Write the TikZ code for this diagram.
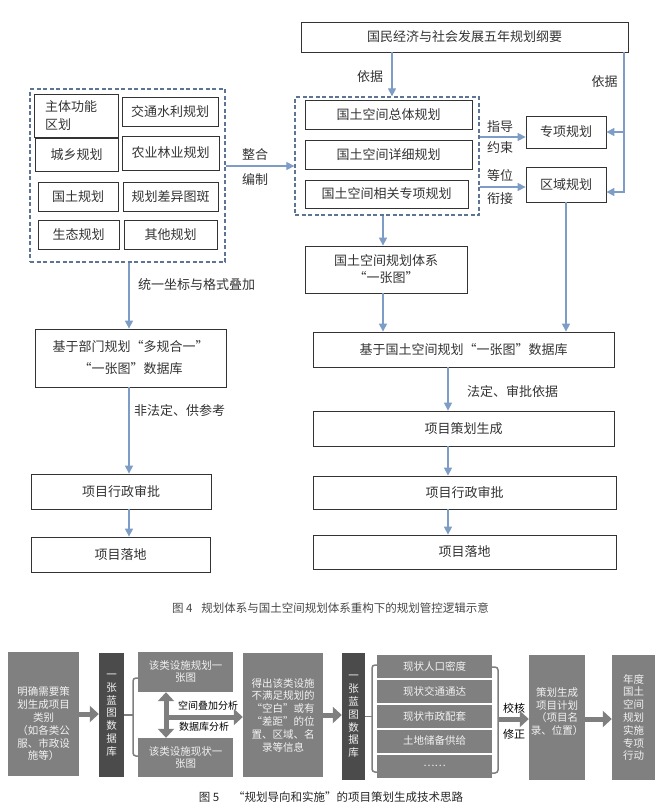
\documentclass[tikz,border=0pt]{standalone}
\usepackage{fontspec}
\setmainfont{Noto Sans CJK SC}
\usetikzlibrary{arrows.meta}
\definecolor{kuang}{HTML}{333333}
\definecolor{xu}{HTML}{5E7494}
\definecolor{jian}{HTML}{7D9CC6}
\definecolor{hui}{HTML}{808080}
\definecolor{shen}{HTML}{4B4B4B}
\definecolor{huijt}{HTML}{7F7F7F}
\definecolor{baise}{HTML}{F2F2F2}
\newcommand{\wz}{\fontsize{13}{15}\selectfont}
\newcommand{\xz}{\fontsize{10.5}{12.8}\selectfont}

\begin{document}
\begin{tikzpicture}[x=1pt,y=-1pt,
  wh/.style 2 args={minimum width=#1pt, minimum height=#2pt},
  kuang/.style={draw=kuang, line width=.8pt, inner sep=0pt, text=kuang, font=\wz, align=center},
  xukuang/.style={draw=xu, line width=1.3pt, dash pattern=on 4pt off 2.5pt, inner sep=0pt},
  jt/.style={draw=jian, line width=1.2pt, -{Triangle[length=8pt,width=8pt]}},
  wenzi/.style={text=kuang, font=\wz, inner sep=0pt},
  huikuang/.style={fill=hui, inner sep=0pt, text=baise, font=\xz, align=center},
  shenkuang/.style={fill=shen, inner sep=0pt, text=baise, font=\xz, align=center},
  cujt/.style={draw=huijt, line width=5pt, -{Triangle[length=9pt,width=16pt]}},
  kuohao/.style={draw=huijt, line width=1.5pt, rounded corners=3pt},
  ]
  \useasboundingbox (0,0) rectangle (663,811);

      % fig 4, top
      \node (gy) at (464.5,37) [kuang, wh={327}{30}] {国民经济与社会发展五年规划纲要};

      % bumen guihua
      \node (bmz) at (127.5,175.5) [xukuang, wh={195}{173}] {};
      \node (zt) at (76,115.5) [kuang, wh={84}{43}, text width=62pt, align=left, font=\fontsize{13}{18}\selectfont] {主体功能\\区划};
      \node (cx) at (76.5,154.5) [kuang, wh={83}{33}] {城乡规划};
      \node (jtsl) at (170,111.5) [kuang, wh={96}{29}] {交通水利规划};
      \node (nyly) at (170.5,153) [kuang, wh={97}{34}] {农业林业规划};
      \node (gtgh) at (78,196.5) [kuang, wh={80}{29}] {国土规划};
      \node (cytb) at (170.5,196.5) [kuang, wh={95}{29}] {规划差异图斑};
      \node (stgh) at (78.5,234.5) [kuang, wh={81}{29}] {生态规划};
      \node (qtgh) at (170.5,234.5) [kuang, wh={93}{29}] {其他规划};

      % guotu kongjian guihua
      \node (gkz) at (387,156) [xukuang, wh={184}{118}] {};
      \node (ztgh) at (388.5,114.5) [kuang, wh={167}{29}] {国土空间总体规划};
      \node (xxgh) at (388.5,154.5) [kuang, wh={167}{29}] {国土空间详细规划};
      \node (zxgh) at (386.5,194) [kuang, wh={163}{28}] {国土空间相关专项规划};
      \node (zx) at (566,132) [kuang, wh={80}{32}] {专项规划};
      \node (qy) at (566,184.5) [kuang, wh={80}{35}] {区域规划};
      \node (yzt) at (386,269.5) [kuang, wh={162}{47}, font=\fontsize{13}{17}\selectfont] {国土空间规划体系\\“一张图”};

      % fig 4, bottom
      \node (bmk) at (130.5,358) [kuang, wh={191}{58}, font=\fontsize{13}{22}\selectfont] {基于部门规划“多规合一”\\“一张图”数据库};
      \node (sp1) at (121,491.5) [kuang, wh={180}{35}] {项目行政审批};
      \node (ld1) at (120.5,554.5) [kuang, wh={179}{35}] {项目落地};
      \node (gtk) at (463.5,349.5) [kuang, wh={301}{35}] {基于国土空间规划“一张图”数据库};
      \node (chsc) at (463.5,428.5) [kuang, wh={301}{35}] {项目策划生成};
      \node (sp2) at (464.5,492.5) [kuang, wh={303}{33}] {项目行政审批};
      \node (ld2) at (464.5,552) [kuang, wh={303}{34}] {项目落地};

      \node (yj1) at (370,77) [wenzi] {依据};
      \node (yj2) at (604.5,82) [wenzi] {依据};
      \node (zh) at (255,155) [wenzi] {整合};
      \node (bz) at (255,180) [wenzi] {编制};
      \node (zd) at (500,127) [wenzi] {指导};
      \node (ys) at (500,148) [wenzi] {约束};
      \node (dw) at (500,176) [wenzi] {等位};
      \node (xj) at (500,199) [wenzi] {衔接};
      \node (tyzb) at (138,285) [wenzi, anchor=west] {统一坐标与格式叠加};
      \node (ffd) at (134,411) [wenzi, anchor=west] {非法定、供参考};
      \node (fd) at (467,392) [wenzi, anchor=west] {法定、审批依据};

      \draw[jt] (gy.south -| 392,0) -- (gkz.north -| 392,0);
      \draw[jt] (gy.south -| 624,0) |- ([yshift=-7.5pt]qy.east);
      \draw[jt] (zx.east -| 624,0) -- (zx.east);
      \draw[jt] (gkz.east |- 0,137) -- (zx.west |- 0,137);
      \draw[jt] (gkz.east |- 0,187) -- (qy.west |- 0,187);
      \draw[jt] (bmz.east |- 0,166) -- (gkz.west |- 0,166);
      \draw[jt] (gkz.south -| 383,0) -- (yzt.north -| 383,0);
      \draw[jt] (yzt.south -| 383,0) -- (gtk.north -| 383,0);
      \draw[jt] (qy.south) -- (gtk.north -| qy.south);
      \draw[jt] (bmz.south -| 129,0) -- (bmk.north -| 129,0);
      \foreach \a/\b in {bmk/sp1, sp1/ld1}
      {
        \draw[jt] (\a.south -| 129,0) -- (\b.north -| 129,0);
      }
      \foreach \a/\b in {gtk/chsc, chsc/sp2, sp2/ld2}
      {
        \draw[jt] (\a.south -| 448,0) -- (\b.north -| 448,0);
      }

      \node (tu4) at (330.5,608) [text=kuang!90, font=\fontsize{11.5}{13}\selectfont] {图 4\hspace{9pt}规划体系与国土空间规划体系重构下的规划管控逻辑示意};

      % fig 5
      \node (mq) at (43.5,714) [huikuang, wh={71}{124}] {};
      \node (mqwz) at ([yshift=-10pt]mq.center) [text=baise, font=\xz, align=center] {明确需要策\\划生成项目\\类别\\（如各类公\\服、市政设\\施等）};
      \node (db1) at (111.5,715) [shenkuang, wh={25}{124}] {一\\张\\蓝\\图\\数\\据\\库};
      \node (gh1) at (185.5,672) [huikuang, wh={95}{40}, font=\fontsize{10.5}{12}\selectfont] {该类设施规划一\\张图};
      \node (xzt) at (185.5,757.5) [huikuang, wh={95}{39}, font=\fontsize{10.5}{12}\selectfont] {该类设施现状一\\张图};
      \node (dc) at (283,715) [huikuang, wh={80}{124}] {得出该类设施\\不满足规划的\\“空白”或有\\“差距”的位\\置、区域、名\\录等信息};
      \node (db2) at (353.5,716.5) [shenkuang, wh={23}{127}] {一\\张\\蓝\\图\\数\\据\\库};
      \foreach \t [count=\i from 0] in {现状人口密度,现状交通通达,现状市政配套,土地储备供给,……}
      {
        \node (xz\i) at (434.5,{666+25*\i}) [huikuang, wh={115}{23}] {\t};
      }
      \node (ch) at (557,717.5) [huikuang, wh={56}{125}] {};
      \node (chwz) at ([yshift=6pt]ch.center) [text=baise, font=\xz, align=center] {策划生成\\项目计划\\（项目名\\录、位置）};
      \node (nd) at (633.5,717.5) [huikuang, wh={43}{125}] {年度\\国土\\空间\\规划\\实施\\专项\\行动};

      \node (kjdj) at (208,706) [font=\fontsize{10}{12}\selectfont] {空间叠加分析};
      \node (sjkfx) at (204,727) [font=\fontsize{10}{12}\selectfont] {数据库分析};
      \node (jh) at (514,708) [font=\fontsize{11}{12}\selectfont] {校核};
      \node (xzz) at (514,734) [font=\fontsize{11}{12}\selectfont] {修正};

      \draw[cujt] (mq.east) -- (mq.east -| db1.west);
      \draw[kuohao] (db1.east) -- (db1.east -| 133,0);
      \draw[kuohao] (gh1.west |- 0,678) -- (133,678) -- (133,756) -- (xzt.west |- 0,756);
      \draw[cujt, {Triangle[length=9pt,width=16pt]}-{Triangle[length=9pt,width=16pt]}] (gh1.south -| 166,0) -- (xzt.north -| 166,0);
      \coordinate (fx) at (166,717);
      \draw[cujt] (fx) -- (fx -| dc.west);
      \draw[cujt] (dc.east) -- (dc.east -| db2.west);
      \draw[kuohao] (db2.east) -- (db2.east -| 372,0);
      \draw[kuohao] (xz0.west |- 0,665) -- (372,665) -- (372,772) -- (xz4.west |- 0,772);
      \draw[kuohao] (xz0.east |- 0,667) -- (498,667) -- (498,773) -- (xz4.east |- 0,773);
      \coordinate (kh) at (498,719);
      \draw[cujt] (kh) -- (kh -| ch.west);
      \draw[cujt] (ch.east |- 0,719) -- (nd.west |- 0,719);

      \node (tu5) at (331,797) [text=black!85, font=\fontsize{11.5}{13}\selectfont] {图 5\hspace{14pt}“规划导向和实施”的项目策划生成技术思路};
\end{tikzpicture}
\end{document}
